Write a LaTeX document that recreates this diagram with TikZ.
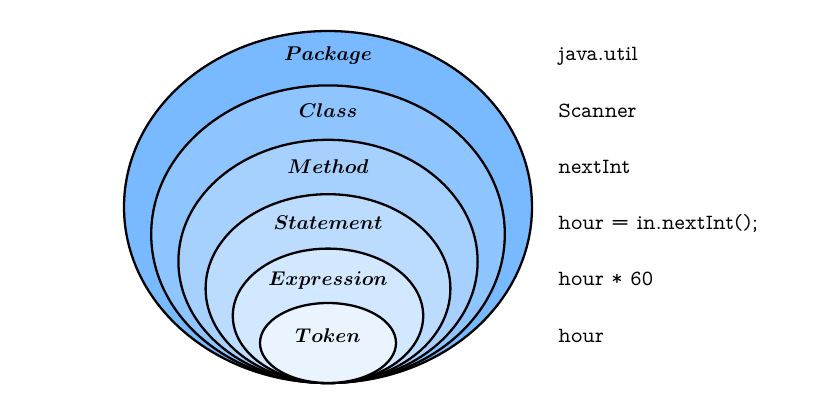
\documentclass[tikz,border=0pt]{standalone}
\usepackage{tikz}
\usetikzlibrary{positioning}
\definecolor{pkgblue}{RGB}{120,185,255}
\tikzset{%
	layer/.style = {draw, line width=1.1pt, fill=pkgblue!#1},
	lbl/.style   = {anchor=base, font=\boldmath, scale=0.955, transform shape},
	code/.style  = {anchor=base west, inner xsep=0pt, font=\fontsize{10.4}{12}\fontfamily{lmvtt}\selectfont},
}
\begin{document}
\begin{tikzpicture}[x=0.48pt,y=0.48pt]
	\useasboundingbox (0,0) rectangle (834,401);
	% nested layers, outermost first
	\foreach \k/\pct in {5/100,4/83,3/66,2/50,1/33,0/16}
		\draw[layer=\pct] (328,{58+27.2*\k}) ellipse [x radius={68+27.2*\k}, y radius={40+27.2*\k}];
	
	\node[lbl] (pkg)  at (328,340)   {$Package$};
	\node[lbl] (cls)  at (328,283.8) {$Class$};
	\node[lbl] (mth)  at (328,227.6) {$Method$};
	\node[lbl] (stmt) at (328,171.4) {$Statement$};
	\node[lbl] (expr) at (328,115.2) {$Expression$};
	\node[lbl] (tok)  at (328,59)    {$Token$};
	
	\node[code] (pkgcode)  at (558,340)   {java.util};
	\node[code] (clscode)  at (558,283.8) {Scanner};
	\node[code] (mthcode)  at (558,227.6) {nextInt};
	\node[code] (stmtcode) at (558,171.4) {hour = in.nextInt();};
	\node[code] (exprcode) at (558,115.2) {hour * 60};
	\node[code] (tokcode)  at (558,59)    {hour};
\end{tikzpicture}
\end{document}
